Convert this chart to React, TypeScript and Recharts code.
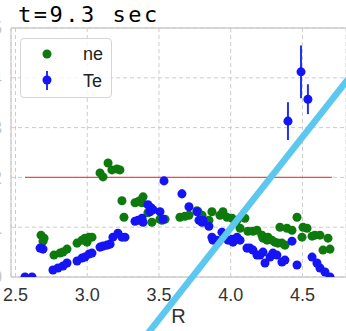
import {
  ScatterChart,
  Scatter,
  XAxis,
  YAxis,
  ZAxis,
  CartesianGrid,
  ReferenceLine,
  ErrorBar,
} from "recharts";

const title = "t=9.3 sec";
const xTicks = [2.5, 3.0, 3.5, 4.0, 4.5];
const yTicks = [0, 1, 2, 3, 4, 5];

// ne (green)
const neR = [
  2.678, 2.699, 2.692, 2.768, 2.81, 2.831, 2.859, 2.929, 2.963, 2.984, 2.998, 3.012, 3.033,
  3.089, 3.11, 3.145, 3.172, 3.207, 3.228, 3.242, 3.256, 3.333, 3.354, 3.368, 3.382, 3.389,
  3.423, 3.451, 3.507, 3.521, 3.542, 3.646, 3.681, 3.709, 3.765, 3.772, 3.8, 3.848, 3.869,
  3.925, 3.946, 3.974, 4.009, 4.044, 4.065, 4.099, 4.12, 4.155, 4.183, 4.218, 4.225, 4.253,
  4.26, 4.287, 4.308, 4.329, 4.343, 4.357, 4.378, 4.392, 4.427, 4.462, 4.497, 4.504, 4.532,
  4.567, 4.587, 4.622, 4.643, 4.678, 4.692,
];
const neValues = [
  0.84, 0.78, 0.72, 0.44, 0.48, 0.5, 0.56, 0.68, 0.74, 0.78, 0.7, 0.8, 0.8,
  2.09, 2.01, 2.29, 2.15, 2.17, 2.15, 1.53, 1.2, 1.49, 1.51, 1.53, 1.49, 1.61,
  1.29, 1.1, 1.16, 1.14, 1.16, 1.2, 1.22, 1.24, 1.33, 1.31, 1.24, 1.14, 1.31,
  1.24, 1.31, 1.2, 1.18, 1.14, 0.98, 1.18, 0.92, 0.92, 0.94, 0.84, 0.78, 0.74,
  0.8, 0.74, 0.7, 0.68, 1.0, 0.68, 0.64, 0.98, 0.94, 1.2, 0.8, 1.0, 0.98,
  0.82, 0.84, 0.84, 0.54, 0.78, 0.56,
];

// Te (blue), with error bars on a few points
const teR = [
  2.566, 2.615, 2.671, 2.692, 2.761, 2.796, 2.831, 2.859, 2.929, 2.963, 2.984, 3.012, 3.033,
  3.089, 3.11, 3.138, 3.159, 3.179, 3.214, 3.242, 3.263, 3.333, 3.354, 3.382, 3.389, 3.423,
  3.437, 3.444, 3.458, 3.507, 3.528, 3.535, 3.66, 3.709, 3.765, 3.779, 3.8, 3.807, 3.848,
  3.869, 3.876, 3.904, 3.911, 3.939, 3.953, 3.981, 4.009, 4.016, 4.044, 4.065, 4.113, 4.134,
  4.155, 4.183, 4.204, 4.225, 4.239, 4.274, 4.294, 4.322, 4.357, 4.378, 4.399, 4.427, 4.462,
  4.49, 4.538, 4.567, 4.601, 4.622, 4.657, 4.692,
];
const teValues = [
  0.0, 0.0, 0.58, 0.56, 0.14, 0.18, 0.22, 0.28, 0.32, 0.38, 0.4, 0.46, 0.48,
  0.6, 0.62, 0.64, 0.66, 0.8, 0.88, 0.8, 0.8, 1.12, 1.14, 1.18, 1.1, 1.45,
  1.31, 1.39, 1.35, 1.31, 1.16, 1.93, 1.67, 1.41, 1.31, 1.14, 1.1, 1.14, 1.02,
  0.8, 0.74, 0.74, 0.7, 0.9, 0.8, 0.74, 0.76, 0.7, 0.8, 0.74, 0.58, 0.58,
  0.54, 0.44, 0.44, 0.5, 0.28, 0.4, 0.48, 0.44, 0.3, 0.34, 3.13, 0.72, 0.24,
  4.12, 3.57, 0.4, 0.28, 0.18, 0.1, 0.0,
];
const teErrors = teR.map((r) =>
  r === 3.66 ? 0.09 : r === 4.399 ? 0.38 : r === 4.49 ? 0.53 : r === 4.538 ? 0.3 : 0
);

// red reference level
const refLevel = 2.0;
const refRange = [2.566, 4.705];

// light blue overlay stroke
const overlayR = [3.4, 4.82];
const overlayValues = [-1.215, 3.98];

const neData = neR.map((r, i) => ({ R: r, v: neValues[i] }));
const teData = teR.map((r, i) => ({ R: r, v: teValues[i], err: teErrors[i] }));

const GREEN = "#0e7a0e";
const BLUE = "#1414f5";
const FONT = "'Liberation Sans', Arial, sans-serif";

export default function App() {
  return (
    <div
      style={{
        position: "absolute",
        left: 0,
        top: 0,
        width: 346,
        height: 331,
        overflow: "hidden",
        background: "#fff",
      }}
    >
      <div style={{ position: "absolute", left: -40, top: 0 }}>
        <ScatterChart width={386} height={331} margin={{ top: 28, right: 0, bottom: 0, left: 0 }}>
          <CartesianGrid stroke="#cccccc" strokeDasharray="4 3" />
          <XAxis
            type="number"
            dataKey="R"
            domain={[2.4686, 4.8035]}
            ticks={xTicks}
            allowDataOverflow
            height={54}
            tickLine={false}
            tickMargin={5}
            axisLine={{ stroke: "#cccccc", strokeWidth: 1.3 }}
            tick={{ fill: "#333", fontSize: 18, fontFamily: FONT }}
            tickFormatter={(v: number) => v.toFixed(1)}
            label={{ value: "R", position: "insideBottom", offset: 8, fill: "#333", fontSize: 20, fontFamily: FONT }}
          />
          <YAxis
            type="number"
            dataKey="v"
            domain={[0, 5]}
            ticks={yTicks}
            allowDataOverflow
            width={51}
            tickLine={false}
            tickMargin={3}
            axisLine={{ stroke: "#cccccc", strokeWidth: 1.3 }}
            tick={{ fill: "#c4c4c4", fontSize: 18, fontFamily: FONT }}
          />
          <ZAxis range={[64, 64]} />
          <ReferenceLine y={5} stroke="#cccccc" strokeWidth={1.3} />
          <ReferenceLine
            segment={[
              { x: refRange[0], y: refLevel },
              { x: refRange[1], y: refLevel },
            ]}
            stroke="#ff4444"
            strokeWidth={1.3}
          />
          <Scatter data={neData} fill={GREEN} isAnimationActive={false} />
          <Scatter data={teData} fill={BLUE} isAnimationActive={false}>
            <ErrorBar dataKey="err" direction="y" width={0} stroke="#2233ee" strokeWidth={2} />
          </Scatter>
          <ReferenceLine
            segment={[
              { x: overlayR[0], y: overlayValues[0] },
              { x: overlayR[1], y: overlayValues[1] },
            ]}
            stroke="#5cc8f0"
            strokeWidth={6.5}
            ifOverflow="visible"
            zIndex={2000}
          />
        </ScatterChart>
      </div>

      <svg width={346} height={30} style={{ position: "absolute", left: 0, top: 0 }}>
        <text
          x={18}
          y={22}
          fontFamily="'DejaVu Sans Mono', monospace"
          fontSize={22}
          letterSpacing={2.5}
          fill="#000"
        >
          {title}
        </text>
      </svg>

      <div
        style={{
          position: "absolute",
          left: 20,
          top: 38,
          width: 92,
          height: 60,
          boxSizing: "border-box",
          border: "1px solid #d4d4d4",
          borderRadius: 4,
          background: "rgba(255,255,255,0.8)",
        }}
      >
        <svg width={92} height={60} style={{ position: "absolute", left: -1, top: -1 }}>
          <circle cx={27} cy={16} r={4.5} fill={GREEN} />
          <text x={63} y={22} fontSize={18} fontFamily={FONT} fill="#222">
            ne
          </text>
          <line x1={27} y1={33} x2={27} y2={52} stroke="#2233ee" strokeWidth={2} />
          <circle cx={27} cy={42} r={4.5} fill={BLUE} />
          <text x={63} y={49} fontSize={18} fontFamily={FONT} fill="#222">
            Te
          </text>
        </svg>
      </div>
    </div>
  );
}
